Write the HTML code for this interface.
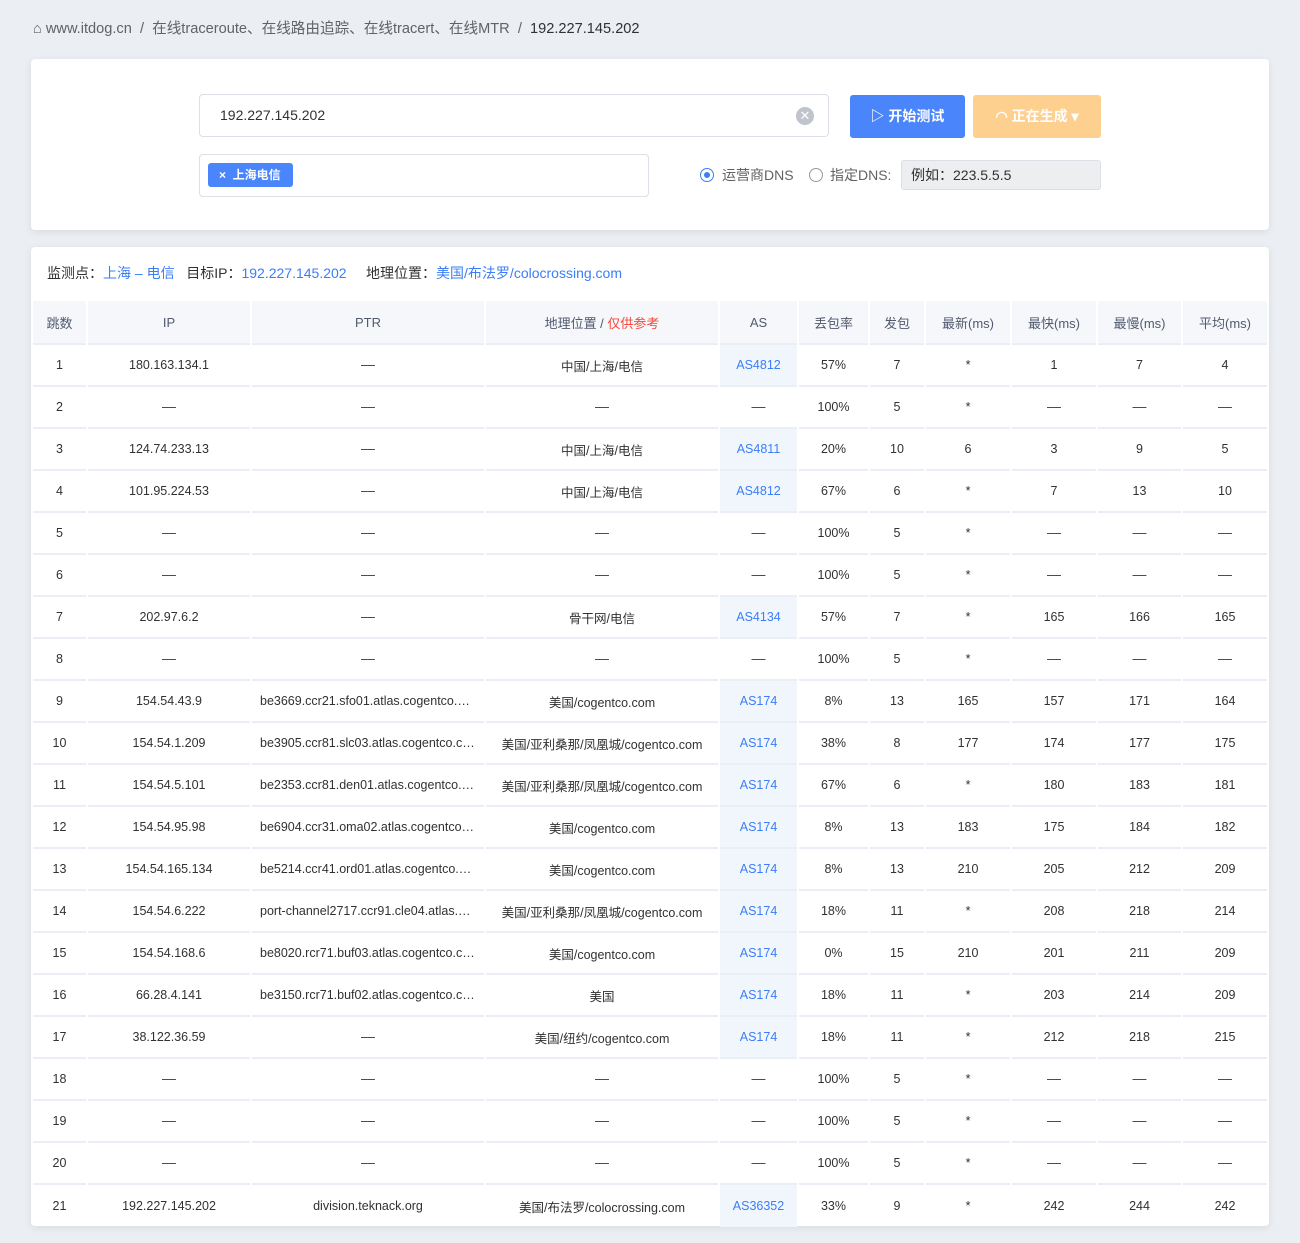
<!DOCTYPE html>
<html><head><meta charset="utf-8"><style>
*{margin:0;padding:0;box-sizing:border-box}
body{width:1300px;height:1243px;background:#ebeef3;font-family:"Liberation Sans","Noto Sans CJK SC",sans-serif;color:#303133;position:relative;overflow:hidden}
.abs{position:absolute}
.bc{left:33px;top:19px;font-size:14.6px;color:#606266;line-height:20px}
.card{background:#fff;border-radius:4px;box-shadow:0 2px 8px rgba(0,0,0,.08)}
.inp{border:1px solid #dcdfe6;border-radius:4px;background:#fff}
.btn{border-radius:3px;color:#fff;font-size:14px;font-weight:bold;text-align:center;line-height:43px}
table{border-collapse:separate;border-spacing:2px 0;position:absolute;left:31px;top:301px;table-layout:fixed;width:1238px}
th,td{text-align:center;font-size:12.5px;font-weight:normal;height:42px;border-bottom:2px solid #ebeef5;white-space:nowrap;overflow:hidden;text-overflow:ellipsis;padding:0 8px}
th{background:#f5f7fa;font-size:13px;color:#515a6e;height:44px}
td.as{background:#f1f6fd;color:#3b7ef5}
.blue{color:#3b7ef5}
</style></head><body>
<div class="abs bc">⌂ www.itdog.cn &nbsp;/&nbsp; 在线traceroute、在线路由追踪、在线tracert、在线MTR &nbsp;/&nbsp; <span style="color:#303133">192.227.145.202</span></div>
<div class="abs card" style="left:31px;top:59px;width:1238px;height:171px"></div>
<div class="abs inp" style="left:199px;top:94px;width:630px;height:43px;font-size:14px;line-height:41px;padding-left:20px">192.227.145.202</div>
<div class="abs" style="left:796px;top:107px;width:18px;height:18px;border-radius:50%;background:#c0c4cc;color:#fff;font-size:13px;line-height:18px;text-align:center">✕</div>
<div class="abs btn" style="left:850px;top:95px;width:115px;height:43px;background:#4a85fb">▷ 开始测试</div>
<div class="abs btn" style="left:973px;top:95px;width:128px;height:43px;background:#fed08f">◠ 正在生成 ▾</div>
<div class="abs inp" style="left:199px;top:154px;width:450px;height:43px"></div>
<div class="abs" style="left:208px;top:163px;width:85px;height:24px;background:#4a85fb;border-radius:3px;color:#fff;font-size:12px;font-weight:bold;line-height:24px;padding-left:11px">× &nbsp;上海电信</div>
<div class="abs" style="left:700px;top:168px;width:14px;height:14px;border-radius:50%;border:1px solid #3b7ef5;background:#fff"><div style="margin:3px;width:6px;height:6px;border-radius:50%;background:#3b7ef5"></div></div>
<div class="abs" style="left:722px;top:165px;font-size:14px;line-height:20px;color:#606266">运营商DNS</div>
<div class="abs" style="left:809px;top:168px;width:14px;height:14px;border-radius:50%;border:1px solid #999;background:#fff"></div>
<div class="abs" style="left:830px;top:165px;font-size:14px;line-height:20px;color:#606266">指定DNS:</div>
<div class="abs" style="left:901px;top:160px;width:200px;height:30px;background:#edeef0;border:1px solid #dcdfe6;border-radius:3px;font-size:14px;line-height:28px;padding-left:9px;color:#303133">例如：223.5.5.5</div>
<div class="abs card" style="left:31px;top:247px;width:1238px;height:979px"></div>
<div class="abs" style="left:47px;top:263px;font-size:14px;line-height:20px">监测点：<span class="blue">上海 – 电信</span> &nbsp; 目标IP：<span class="blue">192.227.145.202</span> &nbsp; &nbsp; 地理位置：<span class="blue">美国/布法罗/colocrossing.com</span></div>
<table>
<colgroup><col style="width:53px"><col style="width:162px"><col style="width:232px"><col style="width:232px"><col style="width:77px"><col style="width:69px"><col style="width:54px"><col style="width:84px"><col style="width:84px"><col style="width:83px"><col style="width:84px"></colgroup>
<tr><th>跳数</th><th>IP</th><th>PTR</th><th>地理位置 / <span style="color:#f5483b">仅供参考</span></th><th>AS</th><th>丢包率</th><th>发包</th><th>最新(ms)</th><th>最快(ms)</th><th>最慢(ms)</th><th>平均(ms)</th></tr>
<tr><td>1</td><td>180.163.134.1</td><td>––</td><td>中国/上海/电信</td><td class="as">AS4812</td><td>57%</td><td>7</td><td>*</td><td>1</td><td>7</td><td>4</td></tr>
<tr><td>2</td><td>––</td><td>––</td><td>––</td><td>––</td><td>100%</td><td>5</td><td>*</td><td>––</td><td>––</td><td>––</td></tr>
<tr><td>3</td><td>124.74.233.13</td><td>––</td><td>中国/上海/电信</td><td class="as">AS4811</td><td>20%</td><td>10</td><td>6</td><td>3</td><td>9</td><td>5</td></tr>
<tr><td>4</td><td>101.95.224.53</td><td>––</td><td>中国/上海/电信</td><td class="as">AS4812</td><td>67%</td><td>6</td><td>*</td><td>7</td><td>13</td><td>10</td></tr>
<tr><td>5</td><td>––</td><td>––</td><td>––</td><td>––</td><td>100%</td><td>5</td><td>*</td><td>––</td><td>––</td><td>––</td></tr>
<tr><td>6</td><td>––</td><td>––</td><td>––</td><td>––</td><td>100%</td><td>5</td><td>*</td><td>––</td><td>––</td><td>––</td></tr>
<tr><td>7</td><td>202.97.6.2</td><td>––</td><td>骨干网/电信</td><td class="as">AS4134</td><td>57%</td><td>7</td><td>*</td><td>165</td><td>166</td><td>165</td></tr>
<tr><td>8</td><td>––</td><td>––</td><td>––</td><td>––</td><td>100%</td><td>5</td><td>*</td><td>––</td><td>––</td><td>––</td></tr>
<tr><td>9</td><td>154.54.43.9</td><td>be3669.ccr21.sfo01.atlas.cogentco.com</td><td>美国/cogentco.com</td><td class="as">AS174</td><td>8%</td><td>13</td><td>165</td><td>157</td><td>171</td><td>164</td></tr>
<tr><td>10</td><td>154.54.1.209</td><td>be3905.ccr81.slc03.atlas.cogentco.com</td><td>美国/亚利桑那/凤凰城/cogentco.com</td><td class="as">AS174</td><td>38%</td><td>8</td><td>177</td><td>174</td><td>177</td><td>175</td></tr>
<tr><td>11</td><td>154.54.5.101</td><td>be2353.ccr81.den01.atlas.cogentco.com</td><td>美国/亚利桑那/凤凰城/cogentco.com</td><td class="as">AS174</td><td>67%</td><td>6</td><td>*</td><td>180</td><td>183</td><td>181</td></tr>
<tr><td>12</td><td>154.54.95.98</td><td>be6904.ccr31.oma02.atlas.cogentco.com</td><td>美国/cogentco.com</td><td class="as">AS174</td><td>8%</td><td>13</td><td>183</td><td>175</td><td>184</td><td>182</td></tr>
<tr><td>13</td><td>154.54.165.134</td><td>be5214.ccr41.ord01.atlas.cogentco.com</td><td>美国/cogentco.com</td><td class="as">AS174</td><td>8%</td><td>13</td><td>210</td><td>205</td><td>212</td><td>209</td></tr>
<tr><td>14</td><td>154.54.6.222</td><td>port-channel2717.ccr91.cle04.atlas.cogentco.com</td><td>美国/亚利桑那/凤凰城/cogentco.com</td><td class="as">AS174</td><td>18%</td><td>11</td><td>*</td><td>208</td><td>218</td><td>214</td></tr>
<tr><td>15</td><td>154.54.168.6</td><td>be8020.rcr71.buf03.atlas.cogentco.com</td><td>美国/cogentco.com</td><td class="as">AS174</td><td>0%</td><td>15</td><td>210</td><td>201</td><td>211</td><td>209</td></tr>
<tr><td>16</td><td>66.28.4.141</td><td>be3150.rcr71.buf02.atlas.cogentco.com</td><td>美国</td><td class="as">AS174</td><td>18%</td><td>11</td><td>*</td><td>203</td><td>214</td><td>209</td></tr>
<tr><td>17</td><td>38.122.36.59</td><td>––</td><td>美国/纽约/cogentco.com</td><td class="as">AS174</td><td>18%</td><td>11</td><td>*</td><td>212</td><td>218</td><td>215</td></tr>
<tr><td>18</td><td>––</td><td>––</td><td>––</td><td>––</td><td>100%</td><td>5</td><td>*</td><td>––</td><td>––</td><td>––</td></tr>
<tr><td>19</td><td>––</td><td>––</td><td>––</td><td>––</td><td>100%</td><td>5</td><td>*</td><td>––</td><td>––</td><td>––</td></tr>
<tr><td>20</td><td>––</td><td>––</td><td>––</td><td>––</td><td>100%</td><td>5</td><td>*</td><td>––</td><td>––</td><td>––</td></tr>
<tr><td style="border-bottom:none">21</td><td style="border-bottom:none">192.227.145.202</td><td style="border-bottom:none">division.teknack.org</td><td style="border-bottom:none">美国/布法罗/colocrossing.com</td><td class="as" style="border-bottom:none">AS36352</td><td style="border-bottom:none">33%</td><td style="border-bottom:none">9</td><td style="border-bottom:none">*</td><td style="border-bottom:none">242</td><td style="border-bottom:none">244</td><td style="border-bottom:none">242</td></tr>
</table>
</body></html>
